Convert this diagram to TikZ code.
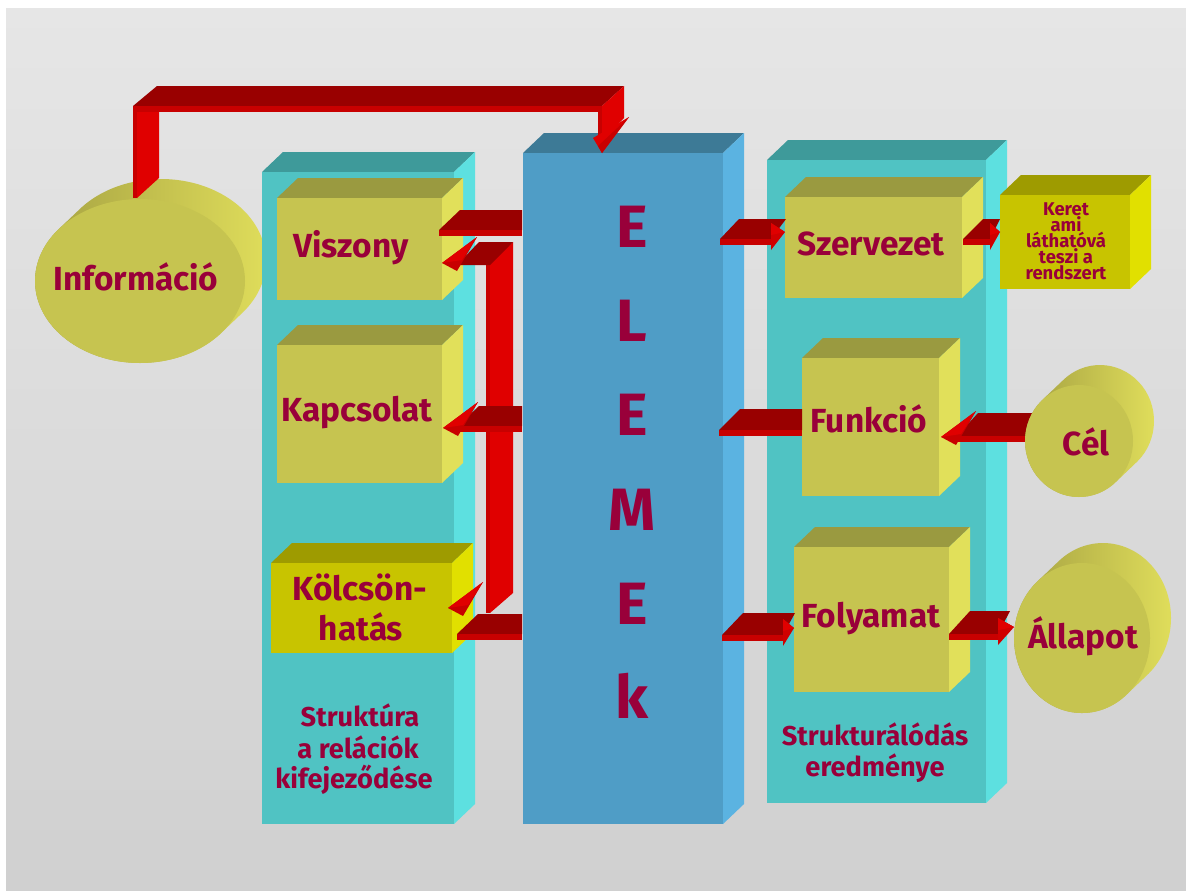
\documentclass[tikz,border=0pt]{standalone}
\usepackage{fontspec}
\setmainfont{Fira Sans}
\definecolor{bgT}{HTML}{E6E6E6}
\definecolor{bgB}{HTML}{D0D0D0}
\definecolor{cyanF}{HTML}{50C3C3}
\definecolor{cyanT}{HTML}{3E9A9A}
\definecolor{cyanS}{HTML}{5DE0E0}
\definecolor{blueF}{HTML}{4F9DC6}
\definecolor{blueT}{HTML}{3D7A96}
\definecolor{blueS}{HTML}{5BB3E1}
\definecolor{yelF}{HTML}{C6C450}
\definecolor{yelT}{HTML}{9A9A40}
\definecolor{yelS}{HTML}{E1E05A}
\definecolor{brF}{HTML}{C8C400}
\definecolor{brT}{HTML}{9E9B00}
\definecolor{brS}{HTML}{E1E000}
\definecolor{cylD}{HTML}{A29E40}
\definecolor{cylL}{HTML}{E2E05C}
\definecolor{redT}{HTML}{990000}
\definecolor{redE}{HTML}{C80000}
\definecolor{redB}{HTML}{E00000}
\definecolor{redH}{HTML}{D00000}
\definecolor{txt}{HTML}{99003A}
\newcommand\cuboid[7]{%
  \fill[#6] (#1,#2) -- (#1+21,#2-20) -- (#3+21,#2-20) -- (#3,#2) -- cycle;
  \fill[#7] (#3,#2) -- (#3+21,#2-20) -- (#3+21,#4-20) -- (#3,#4) -- cycle;
  \fill[#5] (#1,#2) rectangle (#3,#4);}
\newcommand\cyl[4]{%
  \pgfmathsetmacro\tz{atan(#4/#3)}%
  \pgfmathsetmacro\tza{\tz+180}%
  \pgfmathsetmacro\tzb{\tz+360}%
  \pgfmathsetmacro\pax{#1+21+#3*cos(\tza)}%
  \pgfmathsetmacro\pay{#2-20+#4*sin(\tza)}%
  \pgfmathsetmacro\pbx{#1+#3*cos(\tz)}%
  \pgfmathsetmacro\pby{#2+#4*sin(\tz)}%
  \shade[left color=cylD, right color=cylL]
    (\pax,\pay)
    arc[start angle=\tza, end angle=\tzb, x radius=#3, y radius=#4]
    -- (\pbx,\pby)
    arc[start angle=\tz, end angle=\tza, x radius=#3, y radius=#4] -- cycle;
  \fill[yelF] (#1,#2) ellipse[x radius=#3, y radius=#4];}
\newcommand\lhead[2]{%
  \fill[redE] (#1,#2) -- (#1+35,#2-26) -- (#1+15,#2+8) -- cycle;
  \fill[redB] (#1,#2) -- (#1+35,#2-26) -- (#1+20,#2-3) -- cycle;}
\newcommand\rhead[3]{%
  \fill[redH] (#1,#2-16) -- (#1+#3,#2-7) -- (#1,#2+11) -- cycle;
  \fill[redB] (#1,#2-16) -- (#1+#3,#2-7) -- (#1,#2-4) -- cycle;}
\tikzset{
  lab/.style={text=txt, font=\bfseries\fontsize{19}{22}\selectfont, anchor=base, inner sep=0pt},
  mid/.style={text=txt, font=\bfseries\fontsize{15.5}{18}\selectfont, anchor=base, inner sep=0pt},
  small/.style={text=txt, font=\bfseries\fontsize{10.5}{12}\selectfont, anchor=base, inner sep=0pt},
  big/.style={text=txt, font=\bfseries\fontsize{34}{40}\selectfont, anchor=base, inner sep=0pt}
}
\begin{document}
\begin{tikzpicture}[x=0.02cm,y=-0.02cm]
\useasboundingbox (0,0) rectangle (1186,890);
\fill[white] (0,0) rectangle (1186,890);
\shade[top color=bgT, bottom color=bgB] (6,8) rectangle (1186,890);
% Informacio cylinder
\cyl{140}{281}{105}{82}
% left panel
\cuboid{262}{172}{454}{824}{cyanF}{cyanT}{cyanS}
\cuboid{277}{198}{442}{300}{yelF}{yelT}{yelS}
\cuboid{277}{345}{442}{483}{yelF}{yelT}{yelS}
\cuboid{271}{563}{452}{653}{brF}{brT}{brS}
% blue panel
\cuboid{523}{153}{723}{824}{blueF}{blueT}{blueS}
% right panel
\cuboid{767}{160}{986}{803}{cyanF}{cyanT}{cyanS}
\cuboid{785}{197}{962}{298}{yelF}{yelT}{yelS}
\cuboid{1000}{195}{1130}{289}{brF}{brT}{brS}
\cuboid{802}{358}{939}{496}{yelF}{yelT}{yelS}
\cuboid{794}{547}{949}{692}{yelF}{yelT}{yelS}
% top feedback arrow
\fill[redT] (133,106) -- (157,86) -- (624,86) -- (602,106) -- cycle;
\fill[redE] (133,106) rectangle (602,112);
\fill[redB] (137,112) -- (159,112) -- (159,178) -- (137,198) -- cycle;
\fill[redE] (133,106) rectangle (137,198);
\fill[redB] (602,106) -- (624,86) -- (624,118) -- (602,140) -- cycle;
\fill[redE] (598,108) rectangle (602,140);
\fill[redB] (593,138) -- (629,117) -- (602,153) -- cycle;
\fill[redE] (598,146) -- (629,117) -- (602,153) -- cycle;
% left group
\fill[redT] (439,230) -- (460,210) -- (522,210) -- (522,230) -- cycle;
\fill[redE] (439,230) rectangle (522,236);
\fill[redB] (490,262) -- (513,242) -- (513,593) -- (490,613) -- cycle;
\fill[redE] (486,262) rectangle (490,613);
\fill[redT] (457,265) -- (479,242) -- (513,242) -- (490,265) -- cycle;
\lhead{442}{263}
\fill[redT] (458,426) -- (479,406) -- (522,406) -- (522,426) -- cycle;
\fill[redE] (458,426) rectangle (522,432);
\lhead{443}{428}
\lhead{448}{608}
\fill[redT] (457,634) -- (478,614) -- (522,614) -- (522,634) -- cycle;
\fill[redE] (457,634) rectangle (522,640);
% right group
\fill[redT] (719,430) -- (740,409) -- (802,409) -- (802,430) -- cycle;
\fill[redE] (719,430) rectangle (802,436);
\fill[redT] (720,239) -- (739,219) -- (786,219) -- (771,239) -- cycle;
\fill[redE] (720,239) rectangle (771,245);
\rhead{771}{239}{14}
\fill[redT] (963,239) -- (983,219) -- (1000,219) -- (990,239) -- cycle;
\fill[redE] (963,239) rectangle (990,245);
\rhead{990}{239}{10}
\fill[redT] (957,436) -- (978,413) -- (1040,413) -- (1040,436) -- cycle;
\fill[redE] (957,436) rectangle (1040,442);
\lhead{941}{437}
\cyl{1079}{441}{54}{56}
\cyl{1082}{638}{68}{75}
\fill[redT] (722,635) -- (743,613) -- (795,613) -- (783,635) -- cycle;
\fill[redE] (722,635) rectangle (783,641);
\rhead{783}{635}{11}
\fill[redT] (949,634) -- (970,611) -- (1010,611) -- (998,634) -- cycle;
\fill[redE] (949,634) rectangle (998,640);
\rhead{998}{634}{16}
% texts
\node[lab] (info) at (136,290) {Információ};
\node[lab] (visz) at (351,257) {Viszony};
\node[lab] (kapcs) at (357,421) {Kapcsolat};
\node[lab] (kolcsa) at (360,600) {Kölcsön-};
\node[lab] (kolcsb) at (361,640) {hatás};
\node[mid] (stra) at (360,726) {Struktúra};
\node[mid] (strb) at (358,758) {a relációk};
\node[mid] (strc) at (354,788) {kifejeződése};
\node[big] (ea) at (632,247) {E};
\node[big] (eb) at (632,341) {L};
\node[big] (ec) at (632,435) {E};
\node[big] (ed) at (632,530) {M};
\node[big] (ee) at (632,624) {E};
\node[big] (ef) at (632,718) {k};
\node[lab] (szerv) at (871,255) {Szervezet};
\node[small] (kra) at (1066,215) {Keret};
\node[small] (krb) at (1066,231) {ami};
\node[small] (krc) at (1066,247) {láthatóvá};
\node[small] (krd) at (1066,263) {teszi a};
\node[small] (kre) at (1066,279) {rendszert};
\node[lab] (funk) at (869,432) {Funkció};
\node[lab] (cel) at (1086,455) {Cél};
\node[lab] (foly) at (871,627) {Folyamat};
\node[lab] (allap) at (1083,648) {Állapot};
\node[mid] (sra) at (875,745) {Strukturálódás};
\node[mid] (srb) at (875,776) {eredménye};
\end{tikzpicture}
\end{document}
